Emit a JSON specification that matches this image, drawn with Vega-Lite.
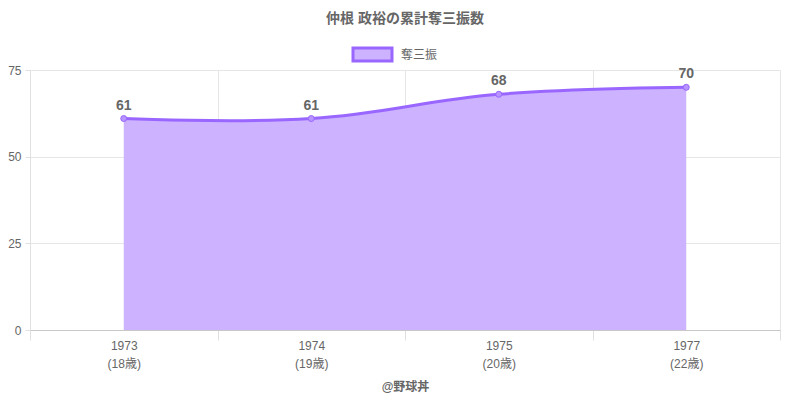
{
  "$schema": "https://vega.github.io/schema/vega-lite/v6.json",
  "width": 750,
  "height": 260,
  "autosize": {"type": "none"},
  "padding": {"left": 30, "top": 70, "right": 20, "bottom": 70},
  "config": {
    "font": "Liberation Sans, Noto Sans CJK JP",
    "view": {"stroke": null}
  },
  "title": {
    "text": "仲根 政裕の累計奪三振数",
    "fontSize": 14,
    "fontWeight": "bold",
    "color": "#666666",
    "anchor": "middle",
    "offset": 14,
    "font": "Liberation Sans, Noto Sans CJK JP"
  },
  "data": {
    "values": [
      {"label": "1973|(18歳)", "k": 61, "series": "奪三振"},
      {"label": "1974|(19歳)", "k": 61, "series": "奪三振"},
      {"label": "1975|(20歳)", "k": 68, "series": "奪三振"},
      {"label": "1977|(22歳)", "k": 70, "series": "奪三振"}
    ]
  },
  "encoding": {
    "x": {
      "field": "label",
      "type": "ordinal",
      "sort": null,
      "scale": {"type": "band", "paddingInner": 0, "paddingOuter": 0},
      "axis": {
        "title": "@野球丼",
        "titleFontWeight": "bold",
        "titleColor": "#666666",
        "titleFontSize": 12,
        "titlePadding": 12,
        "labelExpr": "split(datum.label, '|')",
        "labelColor": "#666666",
        "labelFontSize": 12,
        "labelAngle": 0,
        "labelLineHeight": 18,
        "labelPadding": 0,
        "tickBand": "extent",
        "tickSize": 10,
        "tickColor": "#e0e0e0",
        "grid": true,
        "gridColor": "#e6e6e6",
        "domainColor": "#c8c8c8",
        "domainWidth": 1
      }
    },
    "y": {
      "field": "k",
      "type": "quantitative",
      "scale": {"domain": [0, 75]},
      "axis": {
        "title": null,
        "values": [0, 25, 50, 75],
        "grid": true,
        "gridColor": "#e6e6e6",
        "tickSize": 5,
        "tickColor": "#e0e0e0",
        "labelColor": "#666666",
        "labelFontSize": 12,
        "labelPadding": 4,
        "domainColor": "#e0e0e0"
      }
    }
  },
  "layer": [
    {
      "mark": {"type": "area", "interpolate": "cardinal", "tension": -0.2, "fillOpacity": 1},
      "encoding": {
        "fill": {
          "field": "series",
          "type": "nominal",
          "scale": {"range": ["#CCB2FF"]},
          "legend": {
            "title": null,
            "orient": "none",
            "legendX": 328,
            "legendY": -30,
            "direction": "horizontal",
            "symbolType": "M-1.5,-0.5H1.5V0.5H-1.5Z",
            "symbolSize": 676,
            "symbolStrokeColor": "#9966FF",
            "symbolStrokeWidth": 3,
            "labelColor": "#666666",
            "labelFontSize": 12,
            "labelOffset": 14
          }
        }
      }
    },
    {
      "mark": {"type": "line", "interpolate": "cardinal", "tension": -0.2, "stroke": "#9966FF", "strokeWidth": 3},
      "encoding": {}
    },
    {
      "mark": {"type": "point", "filled": true, "size": 36, "fill": "#B794FF", "stroke": "#9966FF", "strokeWidth": 1, "opacity": 1},
      "encoding": {}
    },
    {
      "mark": {"type": "text", "dy": -13, "fontSize": 14, "fontWeight": "bold", "color": "#666666"},
      "encoding": {"text": {"field": "k", "type": "quantitative"}}
    }
  ]
}
